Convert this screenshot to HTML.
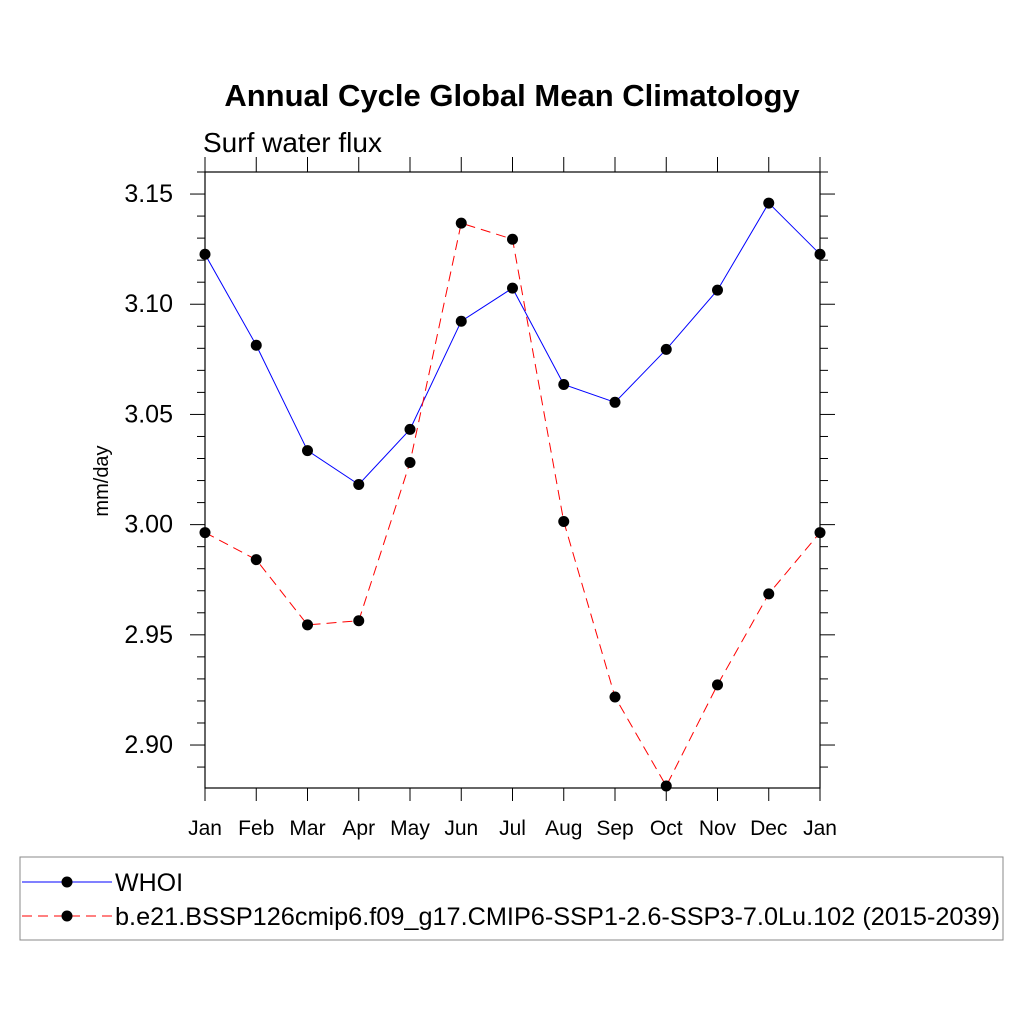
<!DOCTYPE html>
<html><head><meta charset="utf-8"><style>body{margin:0;background:#fff}svg{display:block}text{font-family:"Liberation Sans",sans-serif}</style></head>
<body>
<svg id="c" width="1024" height="1024">
<text x="512" y="106" font-size="31" font-weight="bold" text-anchor="middle">Annual Cycle Global Mean Climatology</text>
<text x="203" y="152" font-size="28">Surf water flux</text>
<text transform="translate(108,481) rotate(-90)" font-size="20" text-anchor="middle">mm/day</text>
<g id="ax"></g><g id="ser"></g>
<rect x="20" y="857" width="983" height="83" fill="none" stroke="#888"/>
<g><line x1="22" y1="882" x2="112" y2="882" stroke="#00f"/><circle cx="67" cy="882" r="5.5" fill="#000"/><text x="115" y="891" font-size="25">WHOI</text></g>
<g><line x1="22" y1="916" x2="112" y2="916" stroke="#f00" stroke-dasharray="10,6"/><circle cx="67" cy="916" r="5.5" fill="#000"/><text x="115" y="925" font-size="25" textLength="885" lengthAdjust="spacingAndGlyphs">b.e21.BSSP126cmip6.f09_g17.CMIP6-SSP1-2.6-SSP3-7.0Lu.102 (2015-2039)</text></g>
</svg>
<script>
const months=["Jan","Feb","Mar","Apr","May","Jun","Jul","Aug","Sep","Oct","Nov","Dec","Jan"];
const whoi=[3.1227,3.0814,3.0336,3.0182,3.0432,3.0923,3.1073,3.0636,3.0555,3.0795,3.1064,3.1459,3.1227];
const ssp=[2.9964,2.9841,2.9545,2.9564,3.0282,3.1368,3.1295,3.0014,2.9218,2.8814,2.9273,2.9686,2.9964];
const yTicks=["2.90","2.95","3.00","3.05","3.10","3.15"];
const X0=205,X1=820,Y0=172,Y1=788,ymin=2.8805,ymax=3.16;
const sx=i=>X0+(X1-X0)*i/12, sy=v=>Y1-(v-ymin)/(ymax-ymin)*(Y1-Y0);
const NS="http://www.w3.org/2000/svg";
function mk(t,a,p){const e=document.createElementNS(NS,t);for(const k in a)e.setAttribute(k,a[k]);p.appendChild(e);return e;}
const ax=document.getElementById('ax'),ser=document.getElementById('ser');
const fr=mk('rect',{x:X0,y:Y0,width:X1-X0,height:Y1-Y0,fill:'none',stroke:'#000','stroke-width':1.2},ax);


for(let i=0;i<months.length;i++){const x=sx(i);
mk('line',{x1:x,y1:Y1,x2:x,y2:Y1+13,stroke:'#000'},ax);
mk('line',{x1:x,y1:Y0,x2:x,y2:Y0-15,stroke:'#000'},ax);
const t=mk('text',{x:x,y:Y1+47,'font-size':21,'text-anchor':'middle'},ax);t.textContent=months[i];

}
for(let v=2.89;v<=3.1601;v+=0.01){const y=sy(v);const maj=Math.abs(Math.round(v*100)%5)===0;const L=maj?15:8;
mk('line',{x1:X0,y1:y,x2:X0-L,y2:y,stroke:'#000'},ax);mk('line',{x1:X1,y1:y,x2:X1+L,y2:y,stroke:'#000'},ax);}
yTicks.forEach(s=>{const t=mk('text',{x:173,y:sy(+s)+8,'font-size':25,'text-anchor':'end'},ax);t.textContent=s;

});
function series(d,col,dash,name){const g=mk('g',{},ser);


const a={points:d.map((v,i)=>sx(i)+','+sy(v)).join(' '),fill:'none',stroke:col,'stroke-width':1};if(dash)a['stroke-dasharray']=dash;mk('polyline',a,g);
d.forEach((v,i)=>{const c=mk('circle',{cx:sx(i),cy:sy(v),r:5.5,fill:'#000'},g);

});}
series(whoi,'#00f',null,'series-whoi');
series(ssp,'#f00','10,6','series-ssp');
</script>
</body></html>
